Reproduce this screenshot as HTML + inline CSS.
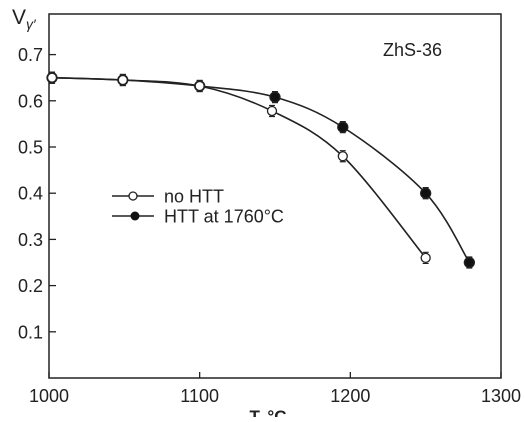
<!DOCTYPE html>
<html><head><meta charset="utf-8"><style>
body{margin:0;background:#fff}
svg text{font-family:"Liberation Sans",Arial,sans-serif;fill:#222}
</style></head><body>
<svg id="chart" width="525" height="417" viewBox="0 0 525 417" xmlns="http://www.w3.org/2000/svg">
<rect x="49" y="14" width="452" height="364" fill="none" stroke="#222" stroke-width="1.5"/>
<g id="axes"></g>
<g id="series"></g>
<text x="12" y="24" font-size="21">V<tspan font-size="14" dy="5" font-style="italic">γ′</tspan></text>
<text x="268" y="422" font-size="17" font-weight="bold" text-anchor="middle">T, °C</text>
<text x="383" y="56" font-size="18">ZhS-36</text>
<g>
<line x1="112" y1="196" x2="154" y2="196" stroke="#222" stroke-width="1.5"/>
<circle cx="133" cy="196" r="4" fill="#fff" stroke="#222" stroke-width="1.3"/>
<text x="164" y="202.5" font-size="18">no HTT</text>
<line x1="112" y1="216" x2="154" y2="216" stroke="#222" stroke-width="1.5"/>
<circle cx="135" cy="216" r="4.5" fill="#111"/>
<text x="164" y="222.5" font-size="18">HTT at 1760°C</text>
</g>
</svg>
<script>
const xTicks=[1000,1100,1200,1300];
const yTicks=[0.1,0.2,0.3,0.4,0.5,0.6,0.7];
const yTickLabels=["0.1","0.2","0.3","0.4","0.5","0.6","0.7"];
const noHttT=[1002,1049,1100,1148,1195,1250];
const noHttV=[0.65,0.645,0.632,0.578,0.48,0.26];
const httT=[1002,1049,1100,1150,1195,1250,1279];
const httV=[0.65,0.645,0.632,0.608,0.543,0.40,0.25];
const errV=0.012;
const NS="http://www.w3.org/2000/svg";
const X=t=>49+(t-1000)/300*452;
const Y=v=>378-v*462;
function mk(tag,attrs,parent){const e=document.createElementNS(NS,tag);for(const k in attrs)e.setAttribute(k,attrs[k]);parent.appendChild(e);return e;}
const axes=document.getElementById('axes');
xTicks.forEach(t=>{
 const l=mk('line',{x1:X(t),x2:X(t),y1:378,y2:372,stroke:'#222','stroke-width':1.3},axes);
 
 
 const tx=mk('text',{x:X(t),y:402,'font-size':18,'text-anchor':'middle'},axes);
 tx.textContent=t;
 
 
});
yTicks.forEach((v,i)=>{
 const l=mk('line',{x1:49,x2:56,y1:Y(v),y2:Y(v),stroke:'#222','stroke-width':1.3},axes);
 
 
 const tx=mk('text',{x:43,y:Y(v)+6.5,'font-size':18,'text-anchor':'end'},axes);
 tx.textContent=yTickLabels[i];
 
 
});
function smooth(pts){
 let d=`M${pts[0][0]},${pts[0][1]}`;
 for(let i=0;i<pts.length-1;i++){
  const p0=pts[i-1]||pts[i],p1=pts[i],p2=pts[i+1],p3=pts[i+2]||p2;
  const c1=[p1[0]+(p2[0]-p0[0])/6,p1[1]+(p2[1]-p0[1])/6];
  const c2=[p2[0]-(p3[0]-p1[0])/6,p2[1]-(p3[1]-p1[1])/6];
  d+=`C${c1[0]},${c1[1]} ${c2[0]},${c2[1]} ${p2[0]},${p2[1]}`;
 }
 return d;
}
const g=document.getElementById('series');
function draw(ts,vs,filled,name){
 const pts=ts.map((t,i)=>[X(t),Y(vs[i])]);
 const p=mk('path',{d:smooth(pts),fill:'none',stroke:'#222','stroke-width':1.6},g);
 
 
 pts.forEach(([x,y],i)=>{
  const y1=Y(vs[i]+errV),y2=Y(vs[i]-errV);
  const e=mk('path',{d:`M${x},${y1}V${y2}M${x-3},${y1}H${x+3}M${x-3},${y2}H${x+3}`,stroke:'#222','stroke-width':1.2,fill:'none'},g);
  
  
  const c=mk('circle',{cx:x,cy:y,r:filled?5:4.5,fill:filled?'#111':'#fff',stroke:'#222','stroke-width':1.3},g);
  
  
 });
}
draw(httT,httV,true,'htt-1760');
draw(noHttT,noHttV,false,'no-htt');
</script>
</body></html>
